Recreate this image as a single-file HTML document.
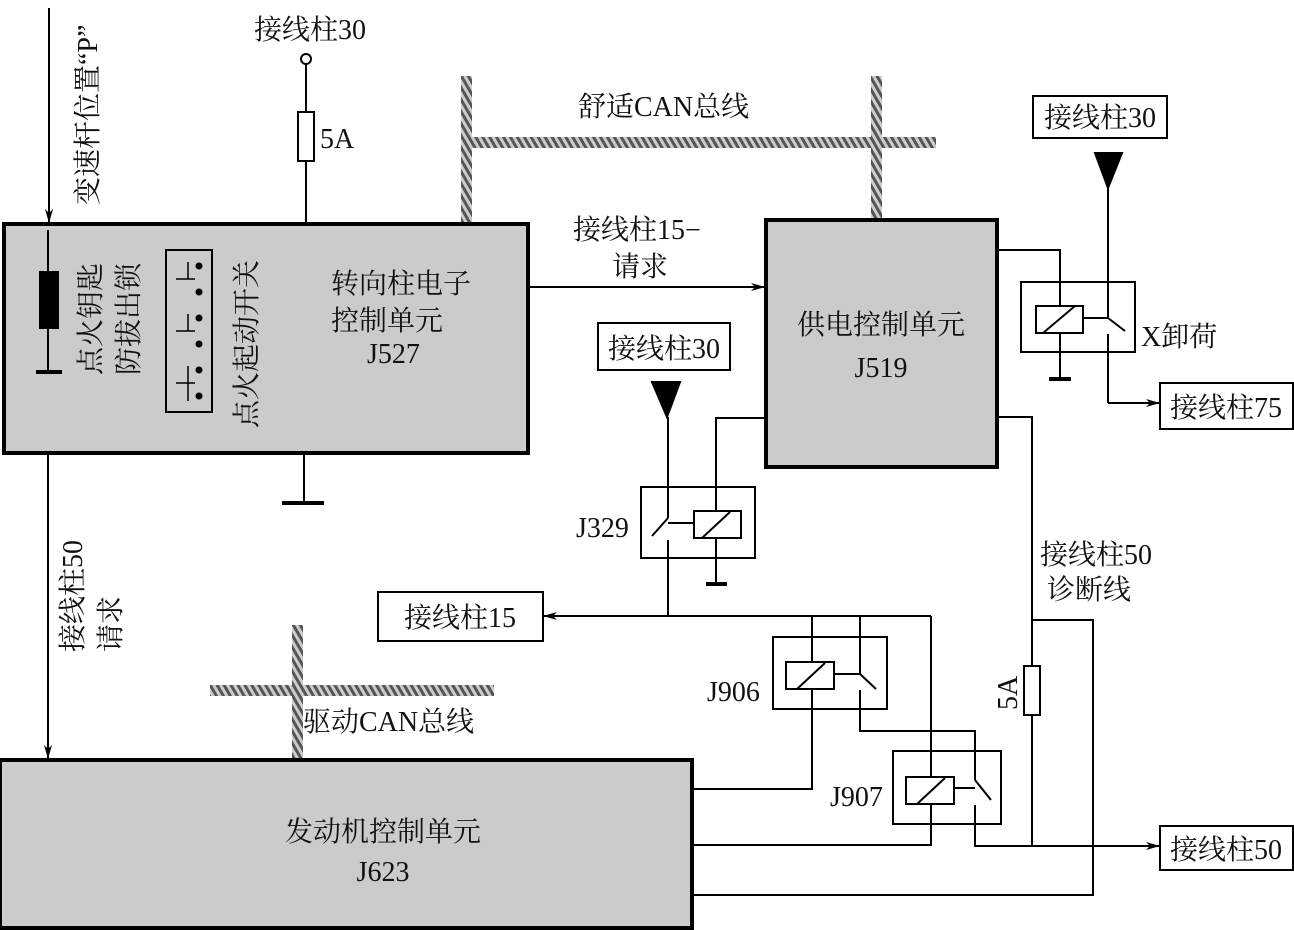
<!DOCTYPE html>
<html><head><meta charset="utf-8"><style>
html,body{margin:0;padding:0;background:#fff}
svg{display:block}
text{font-family:"Liberation Serif","Noto Serif CJK SC","Noto Sans CJK SC",serif;font-size:28px;fill:#111}
</style></head><body>
<svg width="1294" height="930" viewBox="0 0 1294 930" xmlns="http://www.w3.org/2000/svg">
<defs>
<pattern id="h" width="6" height="6" patternUnits="userSpaceOnUse" patternTransform="rotate(-30)">
<rect width="6" height="6" fill="#ccc"/><rect width="3" height="6" fill="#555"/>
</pattern>
<marker id="a" markerWidth="14" markerHeight="8" refX="13" refY="4" orient="auto" markerUnits="userSpaceOnUse">
<path d="M0,0 L14,4 L0,8 L4,4 Z" fill="#000"/></marker>
</defs>
<g stroke="#000" stroke-width="2" fill="none">
<rect x="461" y="76" width="11" height="146" fill="url(#h)" stroke="none"/>
<rect x="461" y="137" width="475" height="11" fill="url(#h)" stroke="none"/>
<rect x="871" y="76" width="11" height="142" fill="url(#h)" stroke="none"/>
<rect x="210" y="685" width="284" height="11" fill="url(#h)" stroke="none"/>
<rect x="292" y="625" width="11" height="133" fill="url(#h)" stroke="none"/>
<rect x="4" y="224" width="524" height="229" fill="#cbcbcb" stroke-width="4"/>
<line x1="49" y1="8" x2="49" y2="222" marker-end="url(#a)"/>
<line x1="48" y1="230" x2="48" y2="372"/>
<rect x="40" y="272" width="18" height="56" fill="#000"/>
<line x1="36" y1="372" x2="62" y2="372" stroke-width="4"/>
<rect x="166" y="250" width="46" height="162"/>
<g stroke-width="1.5">
<line x1="176" y1="279" x2="195" y2="279"/><line x1="188" y1="262" x2="188" y2="279"/>
<line x1="176" y1="331" x2="195" y2="331"/><line x1="188" y1="314" x2="188" y2="331"/>
<line x1="176" y1="383" x2="195" y2="383"/><line x1="188" y1="366" x2="188" y2="401"/>
</g>
<g fill="#000" stroke="none">
<circle cx="199" cy="266" r="3.5"/><circle cx="199" cy="292" r="3.5"/><circle cx="199" cy="318" r="3.5"/>
<circle cx="199" cy="344" r="3.5"/><circle cx="199" cy="370" r="3.5"/><circle cx="199" cy="396" r="3.5"/>
</g>
<circle cx="306" cy="59" r="5" fill="#fff"/>
<line x1="306" y1="64" x2="306" y2="224"/>
<rect x="298" y="112" width="16" height="49" fill="#fff"/>
<line x1="304" y1="455" x2="304" y2="503"/>
<line x1="282" y1="503" x2="324" y2="503" stroke-width="4"/>
<line x1="48" y1="455" x2="48" y2="758" marker-end="url(#a)"/>
<line x1="530" y1="287" x2="764" y2="287" marker-end="url(#a)"/>
<rect x="766" y="220" width="231" height="247" fill="#cbcbcb" stroke-width="4"/>
<rect x="1033" y="96" width="134" height="42"/>
<path d="M1095,153 L1122,153 L1108,188 Z" fill="#000"/>
<line x1="1108" y1="188" x2="1108" y2="318"/>
<line x1="1108" y1="318" x2="1125" y2="331"/>
<line x1="1084" y1="318" x2="1108" y2="318"/>
<line x1="1108" y1="334" x2="1108" y2="403"/>
<line x1="1108" y1="403" x2="1159" y2="403" marker-end="url(#a)"/>
<rect x="1021" y="282" width="114" height="70"/>
<rect x="1036" y="306" width="47" height="27"/>
<line x1="1043" y1="333" x2="1075" y2="306"/>
<polyline points="999,250 1060,250 1060,306"/>
<line x1="1060" y1="333" x2="1060" y2="379"/>
<line x1="1049" y1="379" x2="1071" y2="379" stroke-width="4"/>
<rect x="1160" y="383" width="133" height="46"/>
<rect x="598" y="323" width="132" height="47"/>
<path d="M652,382 L680,382 L667,417 Z" fill="#000"/>
<line x1="668" y1="417" x2="668" y2="518"/>
<line x1="668" y1="518" x2="652" y2="536"/>
<line x1="668" y1="523" x2="694" y2="523"/>
<line x1="668" y1="540" x2="668" y2="616"/>
<rect x="641" y="487" width="114" height="71"/>
<rect x="694" y="511" width="47" height="27"/>
<line x1="702" y1="538" x2="730" y2="512"/>
<polyline points="764,418 716,418 716,511"/>
<line x1="716" y1="538" x2="716" y2="584"/>
<line x1="706" y1="584" x2="727" y2="584" stroke-width="4"/>
<line x1="668" y1="616" x2="544" y2="616" marker-end="url(#a)"/>
<line x1="668" y1="616" x2="931" y2="616"/>
<rect x="378" y="592" width="165" height="49"/>
<rect x="773" y="637" width="114" height="72"/>
<rect x="786" y="662" width="48" height="27"/>
<line x1="797" y1="689" x2="825" y2="663"/>
<polyline points="812,616 812,662"/>
<polyline points="812,689 812,789 694,789"/>
<line x1="860" y1="616" x2="860" y2="674"/>
<line x1="860" y1="674" x2="876" y2="689"/>
<line x1="834" y1="674" x2="860" y2="674"/>
<polyline points="860,690 860,731 975,731 975,780"/>
<rect x="893" y="751" width="108" height="73"/>
<rect x="906" y="777" width="48" height="27"/>
<line x1="917" y1="804" x2="945" y2="778"/>
<line x1="931" y1="616" x2="931" y2="777"/>
<polyline points="931,804 931,845 694,845"/>
<line x1="975" y1="780" x2="991" y2="800"/>
<line x1="954" y1="788" x2="975" y2="788"/>
<polyline points="975,805 975,846 1159,846" marker-end="url(#a)"/>
<rect x="1160" y="826" width="133" height="44"/>
<polyline points="999,417 1032,417 1032,846"/>
<rect x="1024" y="666" width="16" height="49" fill="#fff"/>
<polyline points="1032,620 1093,620 1093,895 694,895"/>
<rect x="0" y="760" width="692" height="168" fill="#cbcbcb" stroke-width="4"/>
</g>
<text x="254" y="39">接线柱30</text>
<text x="320" y="148">5A</text>
<text transform="translate(97,205) rotate(-90)">变速杆位置“P”</text>
<text transform="translate(100,375) rotate(-90)">点火钥匙</text>
<text transform="translate(138,375) rotate(-90)">防拔出锁</text>
<text transform="translate(256,428) rotate(-90)">点火起动开关</text>
<text x="331" y="293">转向柱电子</text>
<text x="331" y="330">控制单元</text>
<text x="367" y="363">J527</text>
<text x="578" y="116">舒适CAN总线</text>
<text x="573" y="239">接线柱15−</text>
<text x="612" y="276">请求</text>
<text x="881" y="334" text-anchor="middle">供电控制单元</text>
<text x="881" y="377" text-anchor="middle">J519</text>
<text x="1100" y="127" text-anchor="middle">接线柱30</text>
<text x="1141" y="346">X卸荷</text>
<text x="1226" y="417" text-anchor="middle">接线柱75</text>
<text x="664" y="358" text-anchor="middle">接线柱30</text>
<text x="576" y="537">J329</text>
<text x="460" y="627" text-anchor="middle">接线柱15</text>
<text transform="translate(82,652) rotate(-90)">接线柱50</text>
<text transform="translate(120,652) rotate(-90)">请求</text>
<text x="303" y="731">驱动CAN总线</text>
<text x="707" y="701">J906</text>
<text x="830" y="806">J907</text>
<text x="1040" y="564">接线柱50</text>
<text x="1047" y="599">诊断线</text>
<text transform="translate(1017,710) rotate(-90)">5A</text>
<text x="1226" y="859" text-anchor="middle">接线柱50</text>
<text x="383" y="841" text-anchor="middle">发动机控制单元</text>
<text x="383" y="881" text-anchor="middle">J623</text>
</svg>
</body></html>
